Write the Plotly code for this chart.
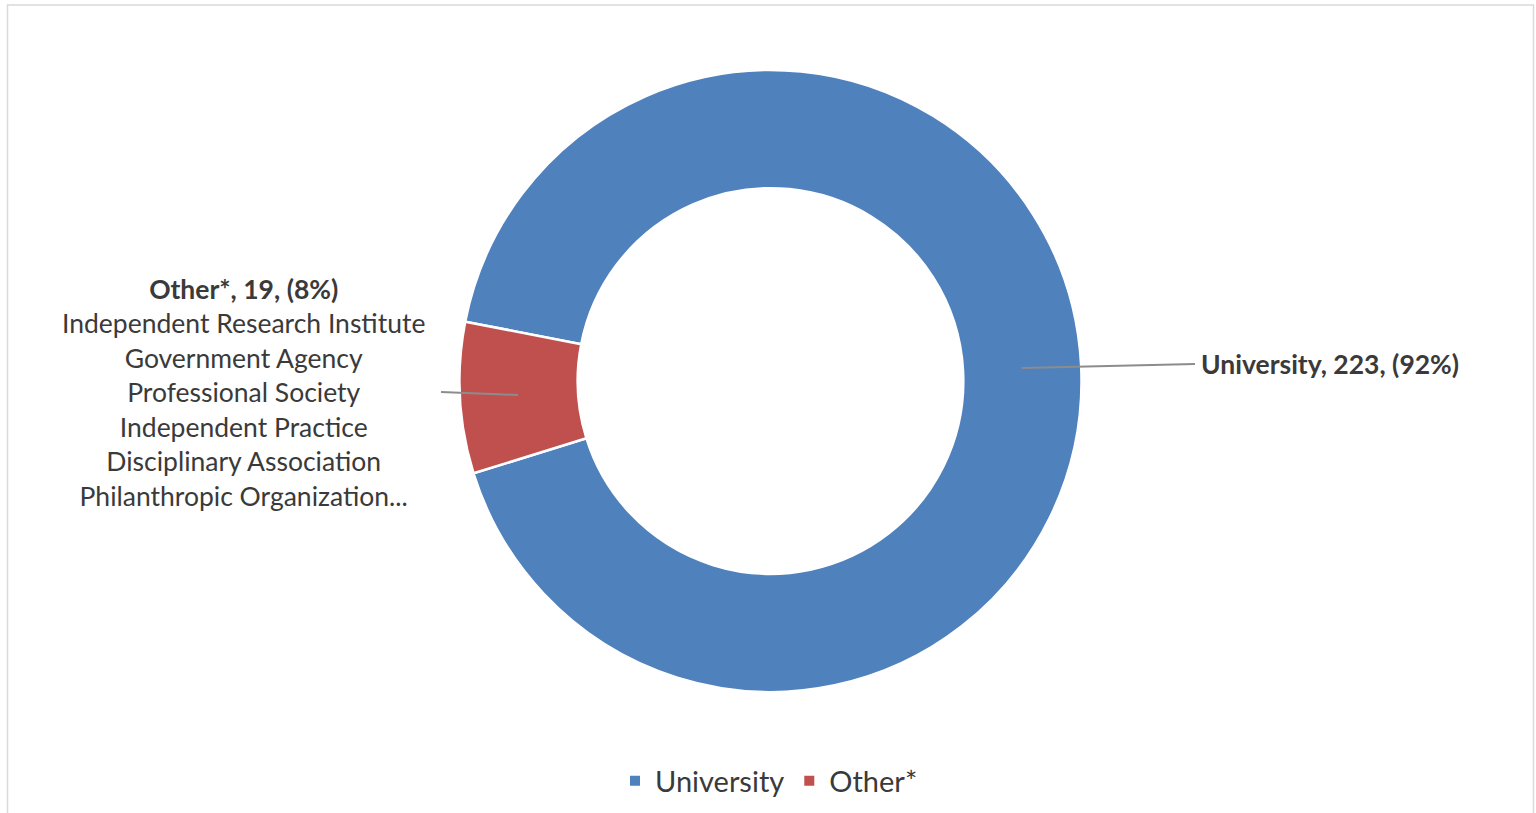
import plotly.graph_objects as go

# Affiliation breakdown
categories = ["University", "Other*"]
counts = [223, 19]
shares = ["92%", "8%"]
other_types = [
    "Independent Research Institute",
    "Government Agency",
    "Professional Society",
    "Independent Practice",
    "Disciplinary Association",
    "Philanthropic Organization...",
]
colors = ["#4F81BD", "#C0504D"]

W, H = 1536, 813
FONT = "Lato"
TXT = "#3a3a3a"

fig = go.Figure(
    go.Pie(
        labels=categories,
        values=counts,
        sort=False,
        direction="clockwise",
        rotation=281,
        hole=0.62,
        marker=dict(colors=colors, line=dict(color="white", width=2.5)),
        textinfo="none",
        hoverinfo="label+value+percent",
        domain=dict(x=[459 / W, 1082 / W], y=[1 - 692 / H, 1 - 70 / H]),
    )
)

# Data labels
uni_label = f"<b>{categories[0]}, {counts[0]}, ({shares[0]})</b>"
other_label = f"<b>{categories[1]}, {counts[1]}, ({shares[1]})</b><br>" + "<br>".join(other_types)

fig.add_annotation(
    x=1199 / W, y=1 - 364 / H, xref="paper", yref="paper",
    text=uni_label, showarrow=False, xanchor="left", yanchor="middle",
    font=dict(family=FONT, size=26.5, color=TXT),
)
fig.add_annotation(
    x=243 / W, y=1 - 392 / H, xref="paper", yref="paper",
    text=other_label, showarrow=False, xanchor="center", yanchor="middle",
    align="center", font=dict(family=FONT, size=26.5, color=TXT),
)

# Leader lines
fig.add_shape(type="line", xref="paper", yref="paper",
              x0=1022 / W, y0=1 - 368 / H, x1=1195 / W, y1=1 - 364 / H,
              line=dict(color="#8c8c8c", width=2))
fig.add_shape(type="line", xref="paper", yref="paper",
              x0=441 / W, y0=1 - 392 / H, x1=518 / W, y1=1 - 395 / H,
              line=dict(color="#8c8c8c", width=2))

# Chart frame
fig.add_shape(type="rect", xref="paper", yref="paper",
              x0=7.5 / W, y0=-0.05, x1=1533.5 / W, y1=1 - 5 / H,
              line=dict(color="#d9d9d9", width=1.5), fillcolor="rgba(0,0,0,0)")

fig.update_layout(
    width=W, height=H,
    margin=dict(l=0, r=0, t=0, b=0),
    paper_bgcolor="white",
    plot_bgcolor="white",
    showlegend=True,
    legend=dict(
        orientation="h", x=769 / W, xanchor="center", y=1 - 781 / H, yanchor="middle",
        font=dict(family=FONT, size=29, color=TXT),
        itemsizing="constant",
    ),
)

fig.write_html("out.html", config={"displayModeBar": False})
